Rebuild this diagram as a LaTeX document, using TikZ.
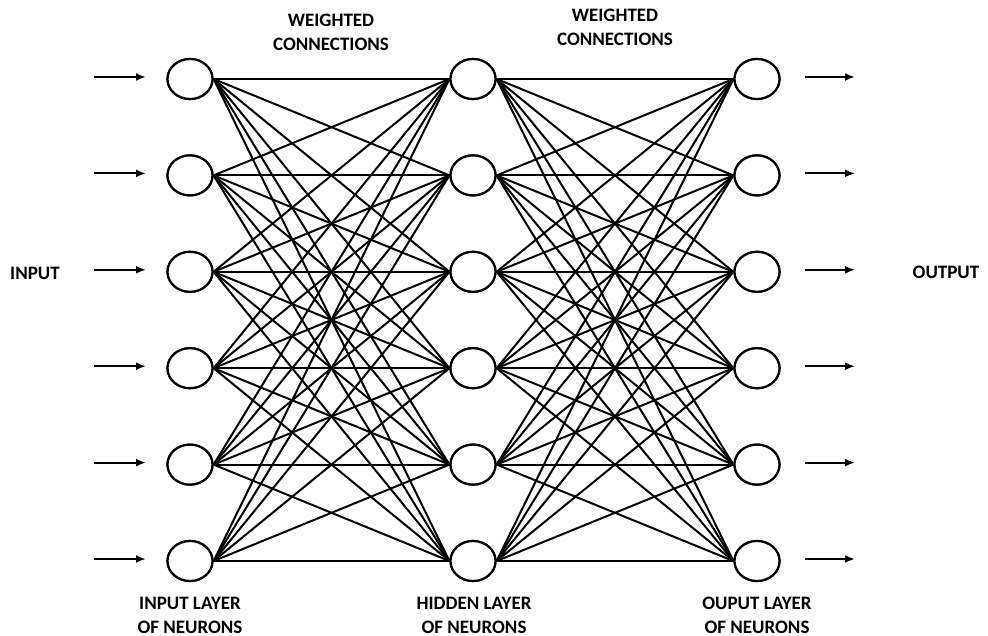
\documentclass[tikz,border=0pt]{standalone}
\usepackage{fontspec}
\setmainfont{Carlito}
\usetikzlibrary{arrows.meta,shapes.geometric}
\begin{document}
\begin{tikzpicture}[x=1pt,y=-1pt,
  neuron/.style={draw=black,line width=2.2pt,fill=white,ellipse,minimum width=45pt,minimum height=40pt,inner sep=0pt},
  conn/.style={line width=2pt},
  io/.style={line width=2.2pt,-{Latex[length=10pt,width=8pt]}},
  lbl/.style={font=\bfseries\fontsize{19}{24}\selectfont,align=center,inner sep=0pt}]
\useasboundingbox (0,0) rectangle (988,636);
\foreach \i/\y in {1/79,2/175.4,3/271.8,4/368.2,5/464.6,6/561}{
  \coordinate (p\i) at (190,\y);
  \coordinate (q\i) at (473,\y);
  \coordinate (r\i) at (757,\y);
}
\foreach \i in {1,...,6}{
  \node[neuron] (a\i) at (p\i) {};
  \node[neuron] (b\i) at (q\i) {};
  \node[neuron] (c\i) at (r\i) {};
}
\foreach \i in {1,...,6}{
  \foreach \j in {1,...,6}{
    \draw[conn] (a\i.east) -- (b\j.west);
    \draw[conn] (b\i.east) -- (c\j.west);
  }
}
\foreach \i in {1,...,6}{
  \node[neuron] at (p\i) {};
  \node[neuron] at (q\i) {};
  \node[neuron] at (r\i) {};
}
\foreach \i in {1,...,6}{
  \coordinate (s\i) at ([xshift=-96pt,yshift=2pt]a\i.center);
  \coordinate (t\i) at ([xshift=-44pt,yshift=2pt]a\i.center);
  \coordinate (u\i) at ([xshift=48pt,yshift=2pt]c\i.center);
  \coordinate (v\i) at ([xshift=98pt,yshift=2pt]c\i.center);
  \draw[io] (s\i) -- (t\i);
  \draw[io] (u\i) -- (v\i);
}
\node[lbl] (inp) at (35,273) {INPUT};
\node[lbl] (outp) at (946,272) {OUTPUT};
\node[lbl] (w1) at (331,32) {WEIGHTED\\CONNECTIONS};
\node[lbl] (w2) at (615,27) {WEIGHTED\\CONNECTIONS};
\node[lbl] (l1) at (190,615) {INPUT LAYER\\OF NEURONS};
\node[lbl] (l2) at (474,615) {HIDDEN LAYER\\OF NEURONS};
\node[lbl] (l3) at (757,615) {OUPUT LAYER\\OF NEURONS};
\end{tikzpicture}
\end{document}
